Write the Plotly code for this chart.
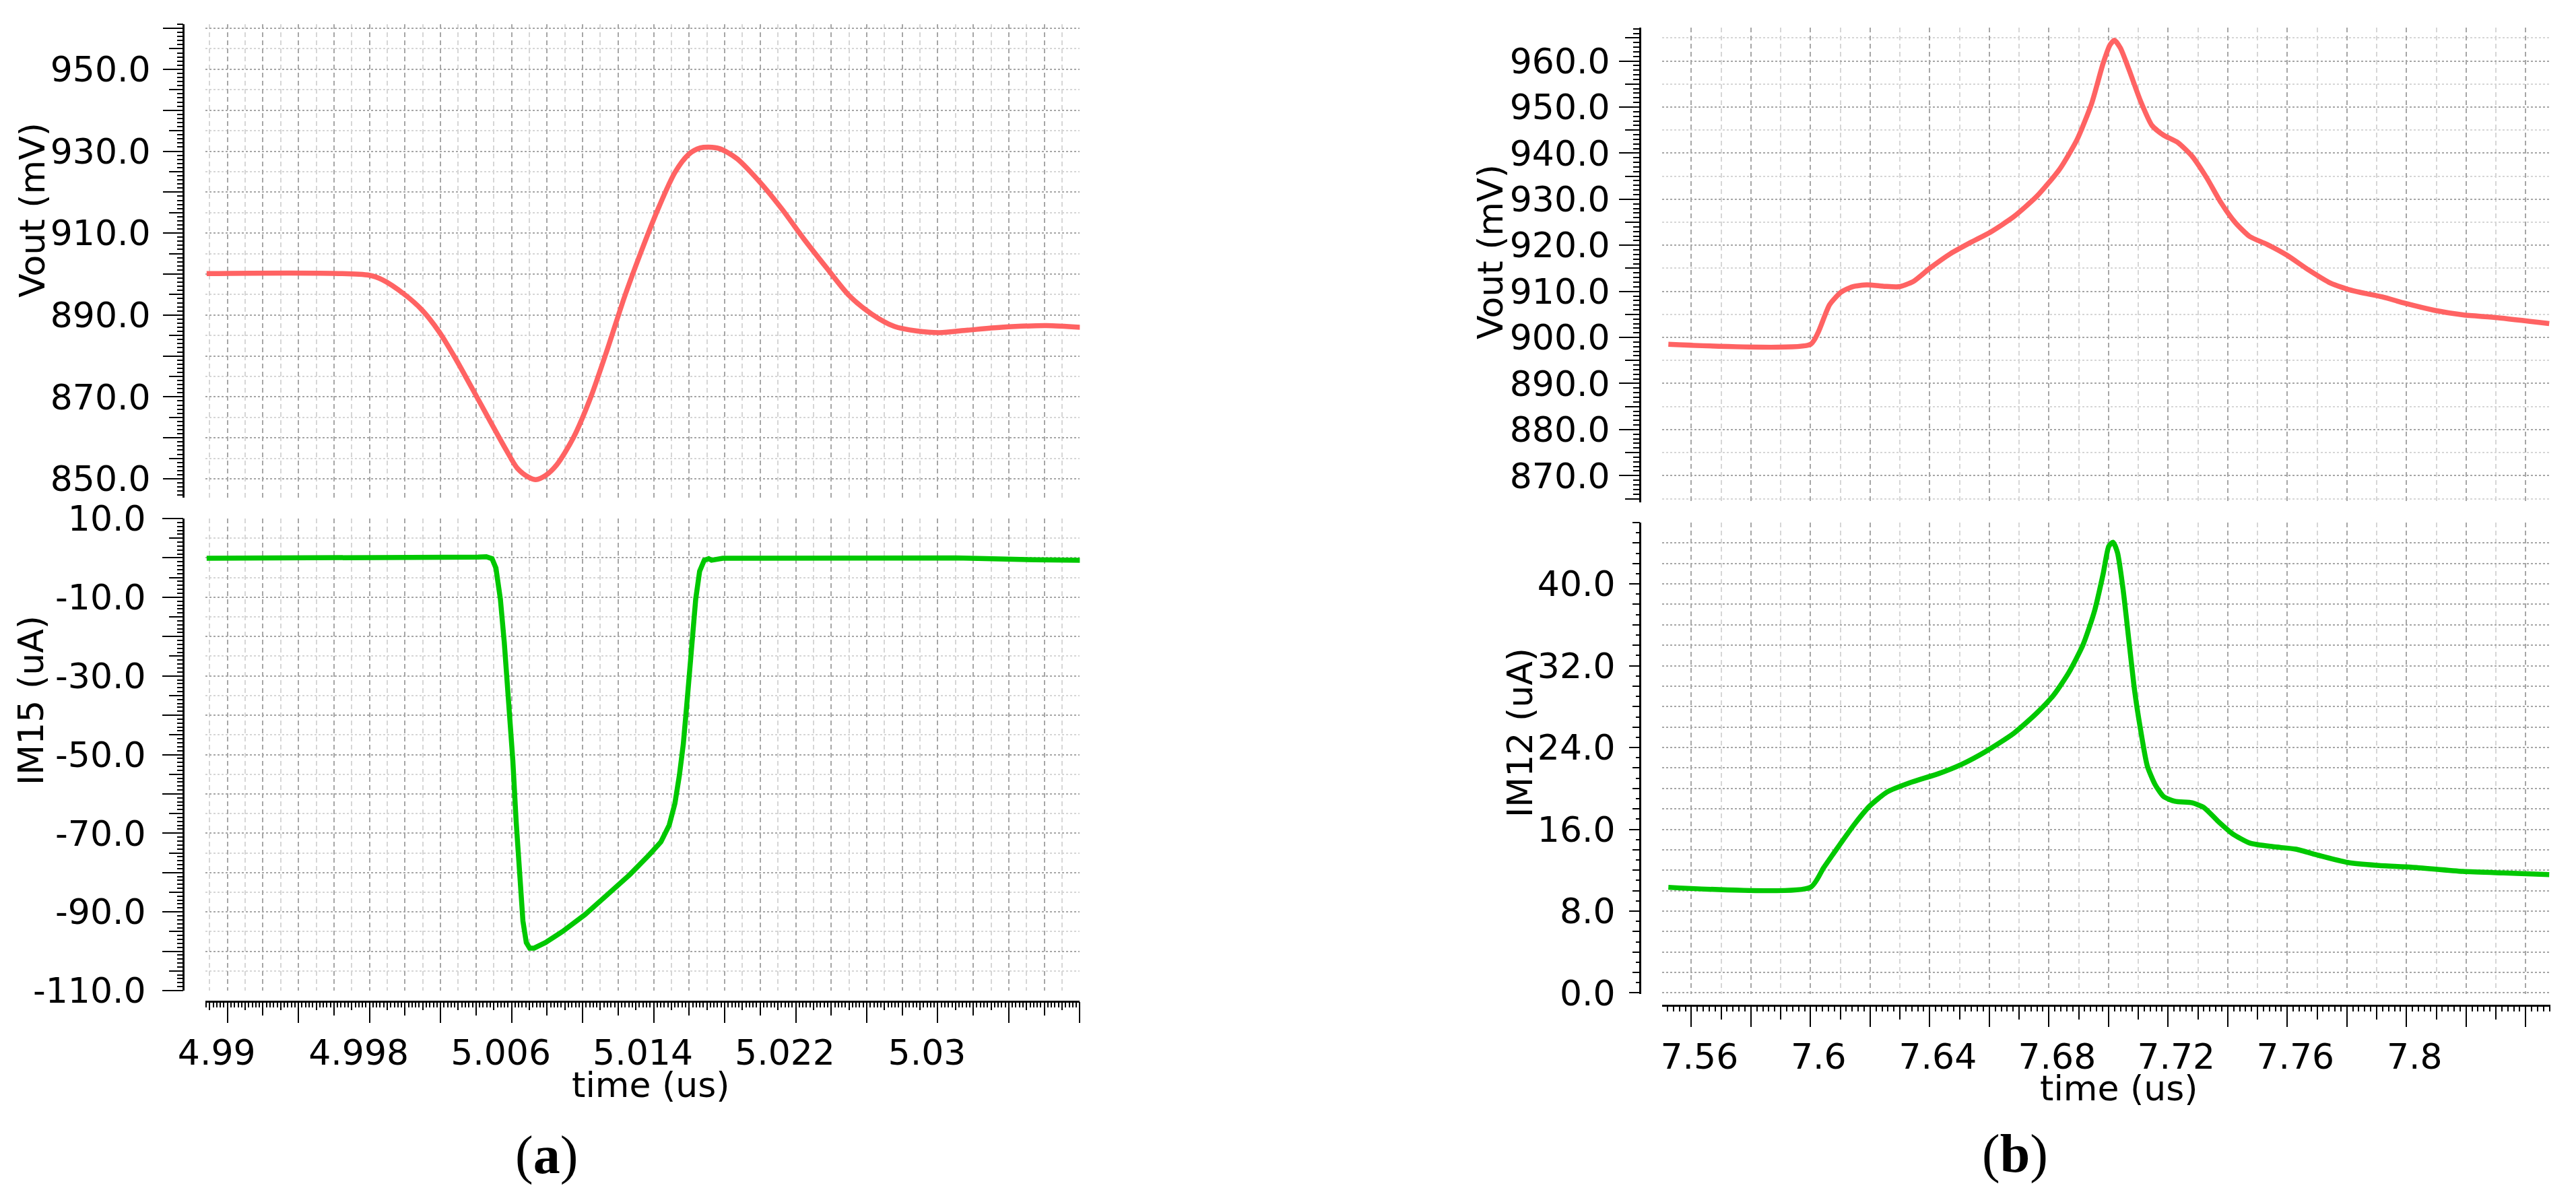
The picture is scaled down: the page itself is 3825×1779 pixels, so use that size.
import plotly.graph_objects as go

# ---------------- data ----------------
time_a_vout = [4.98883, 4.99799, 4.99872, 4.99998, 5.00094, 5.00189, 5.00284, 5.00379, 5.00474, 5.00569,
               5.00632, 5.00696, 5.00737, 5.00791, 5.00854, 5.00949, 5.01044, 5.01140, 5.01235, 5.01330,
               5.01425, 5.01520, 5.01599, 5.01663, 5.01710, 5.01773, 5.01869, 5.01995, 5.02122, 5.02249,
               5.02376, 5.02502, 5.02629, 5.02756, 5.02883, 5.03010, 5.03168, 5.03358, 5.03612, 5.03802]
vout_a = [900.1, 899.7, 898.6, 895.0, 891.3, 886.1, 879.4, 872.0, 864.5, 857.1,
          852.6, 850.4, 849.8, 850.8, 853.4, 860.1, 869.7, 881.7, 894.3, 905.5,
          915.9, 924.8, 929.3, 930.8, 931.0, 930.6, 928.2, 922.6, 915.9, 908.4,
          901.4, 894.7, 890.2, 887.2, 886.1, 885.7, 886.3, 887.0, 887.4, 887.0]

time_a_im15 = [4.98883, 5.00315, 5.00411, 5.00458, 5.00490, 5.00512, 5.00537, 5.00559, 5.00585, 5.00607,
               5.00626, 5.00645, 5.00664, 5.00683, 5.00702, 5.00727, 5.00791, 5.00886, 5.01013, 5.01140,
               5.01266, 5.01377, 5.01441, 5.01488, 5.01520, 5.01545, 5.01567, 5.01590, 5.01615, 5.01637,
               5.01659, 5.01685, 5.01710, 5.01726, 5.01789, 5.02027, 5.03105, 5.03548, 5.03802]
im15_a = [-0.1, -0.1, 0.2, 0.3, -0.2, -2.6, -10.5, -21.5, -35.6, -51.4,
          -67.1, -81.3, -92.3, -97.8, -99.2, -99.2, -97.8, -95.0, -90.7, -85.6,
          -80.5, -75.4, -72.2, -67.9, -62.4, -55.3, -47.4, -35.6, -22.3, -10.5,
          -3.4, -0.6, -0.2, -0.6, -0.1, -0.1, 0.0, -0.5, -0.6]

time_b_vout = [7.5523, 7.6000, 7.6025, 7.6064, 7.6102, 7.6141, 7.6189, 7.6247, 7.6296, 7.6344,
               7.6402, 7.6470, 7.6537, 7.6605, 7.6682, 7.6759, 7.6837, 7.6895, 7.6943, 7.6982,
               7.7005, 7.7020, 7.7040, 7.7069, 7.7107, 7.7146, 7.7185, 7.7233, 7.7281, 7.7330,
               7.7378, 7.7426, 7.7474, 7.7532, 7.7600, 7.7668, 7.7745, 7.7822, 7.7919, 7.7996,
               7.8093, 7.8189, 7.8305, 7.8479]
vout_b = [898.5, 898.5, 901.0, 907.1, 909.8, 911.0, 911.4, 911.1, 911.0, 912.1,
          915.1, 918.2, 920.6, 922.9, 926.2, 930.6, 936.6, 943.0, 950.7, 959.5,
          963.5, 964.5, 962.8, 958.1, 951.4, 946.0, 943.9, 942.3, 939.3, 934.6,
          929.2, 924.9, 921.9, 920.2, 917.8, 914.8, 911.8, 910.1, 908.8, 907.4,
          905.9, 904.9, 904.3, 903.0]

time_b_im12 = [7.5523, 7.6000, 7.6044, 7.6102, 7.6151, 7.6199, 7.6257, 7.6334, 7.6431, 7.6508,
               7.6586, 7.6682, 7.6759, 7.6817, 7.6866, 7.6914, 7.6953, 7.6982, 7.7001, 7.7015,
               7.7030, 7.7049, 7.7069, 7.7088, 7.7107, 7.7130, 7.7156, 7.7185, 7.7223, 7.7281,
               7.7320, 7.7368, 7.7416, 7.7474, 7.7552, 7.7629, 7.7706, 7.7803, 7.7900, 7.8016,
               7.8189, 7.8325, 7.8479]
im12_b = [10.33, 10.33, 12.24, 14.66, 16.63, 18.29, 19.65, 20.56, 21.46, 22.37,
          23.58, 25.39, 27.36, 29.17, 31.29, 34.01, 37.34, 40.97, 43.69, 44.08,
          43.08, 39.46, 34.32, 29.48, 25.85, 22.22, 20.40, 19.20, 18.74, 18.59,
          18.14, 16.78, 15.57, 14.66, 14.30, 14.06, 13.45, 12.76, 12.48, 12.30,
          11.88, 11.73, 11.58]

# tick labels
xlabels_a = ["4.99", "4.998", "5.006", "5.014", "5.022", "5.03"]
xlabels_b = ["7.56", "7.6", "7.64", "7.68", "7.72", "7.76", "7.8"]
ylabels_a_vout = ["850.0", "870.0", "890.0", "910.0", "930.0", "950.0"]
ylabels_a_im15 = ["-110.0", "-90.0", "-70.0", "-50.0", "-30.0", "-10.0", "10.0"]
ylabels_b_vout = ["870.0", "880.0", "890.0", "900.0", "910.0", "920.0", "930.0", "940.0", "950.0", "960.0"]
ylabels_b_im12 = ["0.0", "8.0", "16.0", "24.0", "32.0", "40.0"]

# ---------------- styling / layout helpers ----------------
W, H = 3825, 1779
def fx(p): return p / W
def fy(p): return 1 - p / H

FONT = "DejaVu Sans"
DARK = "#a6a6a6"
LIGHT = "#d6d6d6"
VDASH = "7px,5px"
HDASH = "3px,3px"
RED = "#ff6363"
GREEN = "#00c800"
LW = 7.5
TICKF = dict(family=FONT, size=52, color="black")

# ranges
XR_A = [4.98876, 5.038]
XR_B = [7.5502, 7.8483]
YR_AV = [845.4, 961.0]
YR_AI = [-110.0, 10.0]
YR_BV = [864.2, 967.25]
YR_BI = [-0.1, 46.0]

XD_A = [fx(305), fx(1603.4)]
XD_B = [fx(2468), fx(3787)]
YD_AT = [fy(739), fy(36)]
YD_AB = [fy(1471), fy(770)]
YD_BT = [fy(746), fy(41)]
YD_BB = [fy(1476), fy(776)]
YPOS_A = fx(272)
YPOS_B = fx(2435)
XPOS_A = fy(1487)
XPOS_B = fy(1492.5)


def grid_x(domain, rng, tick0, dtick, minor_dtick, anchor, pos=None):
    d = dict(domain=domain, range=rng, tickmode="linear", tick0=tick0, dtick=dtick,
             showgrid=True, gridcolor=DARK, griddash=VDASH, gridwidth=2,
             ticks="", showticklabels=False, zeroline=False, automargin=False,
             minor=dict(tickmode="linear", tick0=tick0, dtick=minor_dtick, showgrid=True,
                        gridcolor=LIGHT, griddash=VDASH, gridwidth=2, ticks=""))
    if pos is None:
        d.update(anchor=anchor, showline=False)
    else:
        d.update(anchor="free", position=pos, showline=True, linecolor="black", linewidth=3)
    return d


def label_axis_x(over, domain, rng, pos, vals, texts, minor_tick0, minor_dtick, shift):
    return dict(overlaying=over, domain=domain, range=rng, anchor="free", position=pos,
                tickmode="array", tickvals=vals, ticktext=texts, ticks="outside",
                ticklen=31, tickwidth=2, tickcolor="black", showgrid=False, zeroline=False,
                showline=False, tickfont=TICKF, ticklabelshift=shift, ticklabelstandoff=0,
                automargin=False,
                minor=dict(tickmode="linear", tick0=minor_tick0, dtick=minor_dtick,
                           ticks="outside", ticklen=20, tickwidth=2, tickcolor="black",
                           showgrid=False))


def small_axis_x(over, domain, rng, pos, tick0, dtick, mdtick, mid_len):
    return dict(overlaying=over, domain=domain, range=rng, anchor="free", position=pos,
                tickmode="linear", tick0=tick0, dtick=dtick, ticks="outside",
                ticklen=mid_len, tickwidth=1.5, tickcolor="black", showticklabels=False,
                showgrid=False, zeroline=False, showline=False, automargin=False,
                minor=dict(tickmode="linear", tick0=tick0, dtick=mdtick, ticks="outside",
                           ticklen=8, tickwidth=1.5, tickcolor="black", showgrid=False))


def main_y(domain, rng, pos, vals, texts, minor_tick0, minor_dtick, major_len, minor_len,
           minor_color, standoff):
    return dict(domain=domain, range=rng, anchor="free", position=pos,
                showline=True, linecolor="black", linewidth=3,
                tickmode="array", tickvals=vals, ticktext=texts, ticks="outside",
                ticklen=major_len, tickwidth=2, tickcolor="black", tickfont=TICKF,
                ticklabelstandoff=standoff, automargin=False,
                showgrid=True, gridcolor=DARK, griddash=HDASH, gridwidth=2, zeroline=False,
                minor=dict(tickmode="linear", tick0=minor_tick0, dtick=minor_dtick,
                           ticks="outside", ticklen=minor_len, tickwidth=2, tickcolor="black",
                           showgrid=True, gridcolor=minor_color, griddash=HDASH,
                           gridwidth=2))


def small_y(over, domain, rng, pos, tick0, dtick, length):
    return dict(overlaying=over, domain=domain, range=rng, anchor="free", position=pos,
                tickmode="linear", tick0=tick0, dtick=dtick, ticks="outside", ticklen=length,
                tickwidth=1.5, tickcolor="black", showticklabels=False, showgrid=False,
                zeroline=False, showline=False, automargin=False)


def tick_table(start, step, count, labels):
    vals = [round(start + step * k, 4) for k in range(count)]
    lab = {round(float(s), 4): s for s in labels}
    texts = [lab.get(v, "") for v in vals]
    return vals, texts

# long ticks on x axes (with their labels)
xa_vals, xa_text = tick_table(4.99, 0.004, 13, xlabels_a)
xb_vals, xb_text = tick_table(7.56, 0.02, 15, xlabels_b)
# long ticks on y axes
yav_vals, yav_text = tick_table(850, 10, 12, ylabels_a_vout)
yai_vals, yai_text = tick_table(-110, 10, 13, ylabels_a_im15)
ybv_vals, ybv_text = tick_table(870, 10, 10, ylabels_b_vout)
ybi_vals, ybi_text = tick_table(0, 8, 6, ylabels_b_im12)

fig = go.Figure()

fig.add_trace(go.Scatter(x=time_a_vout, y=vout_a, mode="lines", xaxis="x", yaxis="y",
                         line=dict(color=RED, width=LW, shape="spline", smoothing=0.8)))
fig.add_trace(go.Scatter(x=time_a_im15, y=im15_a, mode="lines", xaxis="x2", yaxis="y2",
                         line=dict(color=GREEN, width=LW)))
fig.add_trace(go.Scatter(x=time_b_vout, y=vout_b, mode="lines", xaxis="x3", yaxis="y3",
                         line=dict(color=RED, width=LW, shape="spline", smoothing=0.6)))
fig.add_trace(go.Scatter(x=time_b_im12, y=im12_b, mode="lines", xaxis="x4", yaxis="y4",
                         line=dict(color=GREEN, width=LW, shape="spline", smoothing=0.6)))

# empty helper traces so the extra tick axes are drawn
for xa, ya in [("x5", "y2"), ("x6", "y2"), ("x7", "y4"), ("x8", "y4"),
               ("x", "y5"), ("x2", "y6"), ("x3", "y7"), ("x4", "y8")]:
    fig.add_trace(go.Scatter(x=[None], y=[None], xaxis=xa, yaxis=ya, mode="lines",
                             hoverinfo="skip", showlegend=False))

layout = dict(
    width=W, height=H, autosize=False,
    margin=dict(l=0, r=0, t=0, b=0, pad=0, autoexpand=False),
    paper_bgcolor="white", plot_bgcolor="white", showlegend=False,
    font=dict(family=FONT, color="black"),
    xaxis=grid_x(XD_A, XR_A, 4.99, 0.002, 0.001, "y"),
    xaxis2=grid_x(XD_A, XR_A, 4.99, 0.002, 0.001, "y2", XPOS_A),
    xaxis3=grid_x(XD_B, XR_B, 7.56, 0.02, 0.01, "y3"),
    xaxis4=grid_x(XD_B, XR_B, 7.56, 0.02, 0.01, "y4", XPOS_B),
    xaxis5=label_axis_x("x2", XD_A, XR_A, XPOS_A, xa_vals, xa_text, 4.99, 0.002, -16),
    xaxis6=small_axis_x("x2", XD_A, XR_A, XPOS_A, 4.99, 0.001, 0.0002, 12),
    xaxis7=label_axis_x("x4", XD_B, XR_B, XPOS_B, xb_vals, xb_text, 7.56, 0.01, 12),
    xaxis8=small_axis_x("x4", XD_B, XR_B, XPOS_B, 7.56, 0.002, 0.002, 8),
    yaxis=main_y(YD_AT, YR_AV, YPOS_A, yav_vals, yav_text, 850, 5, 29, 20, LIGHT, 8),
    yaxis2=main_y(YD_AB, YR_AI, YPOS_A, yai_vals, yai_text, -110, 5, 30, 20, LIGHT, 14),
    yaxis3=main_y(YD_BT, YR_BV, YPOS_B, ybv_vals, ybv_text, 870, 5, 30, 21, LIGHT, 3),
    yaxis4=main_y(YD_BB, YR_BI, YPOS_B, ybi_vals, ybi_text, 0, 2, 15, 10, DARK, 10),
    yaxis5=small_y("y", YD_AT, YR_AV, YPOS_A, 850, 1, 9),
    yaxis6=small_y("y2", YD_AB, YR_AI, YPOS_A, -110, 1, 9),
    yaxis7=small_y("y3", YD_BT, YR_BV, YPOS_B, 870, 1, 10),
    yaxis8=small_y("y4", YD_BB, YR_BI, YPOS_B, 0, 1, 6),
)
fig.update_layout(**layout)

TITLEF = dict(family=FONT, size=52, color="black")
annots = [
    dict(text="Vout (mV)", x=fx(48), y=fy(312), textangle=-90),
    dict(text="IM15 (uA)", x=fx(46), y=fy(1040), textangle=-90),
    dict(text="Vout (mV)", x=fx(2213), y=fy(374), textangle=-90),
    dict(text="IM12 (uA)", x=fx(2257), y=fy(1088), textangle=-90),
    dict(text="time (us)", x=fx(967), y=fy(1611), textangle=0),
    dict(text="time (us)", x=fx(3146), y=fy(1616), textangle=0),
]
for a in annots:
    fig.add_annotation(xref="paper", yref="paper", xanchor="center", yanchor="middle",
                       showarrow=False, font=TITLEF, **a)
for txt, x, y in [("(<b>a</b>)", 811, 1715), ("(<b>b</b>)", 2992, 1713)]:
    fig.add_annotation(text=txt, x=fx(x), y=fy(y), xref="paper", yref="paper",
                       xanchor="center", yanchor="middle", showarrow=False,
                       font=dict(family="Liberation Serif", size=80, color="black"))

fig.write_html("out.html", config={"displayModeBar": False},
               post_script="document.body.style.margin='0';document.body.style.overflow='hidden';")
